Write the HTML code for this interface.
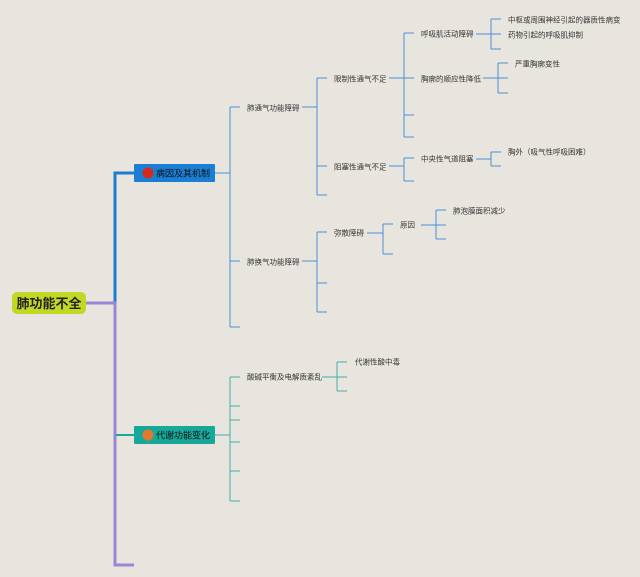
<!DOCTYPE html>
<html><head><meta charset="utf-8"><style>
html,body{margin:0;padding:0;background:#e8e5df;}
svg{display:block;}
text{font-family:"Liberation Sans","Noto Sans CJK SC",sans-serif;font-size:7.5px;fill:#333;dominant-baseline:central;}
</style></head><body>
<svg width="640" height="577" viewBox="0 0 640 577" xmlns="http://www.w3.org/2000/svg">
<rect width="640" height="577" fill="#e8e5df"/>
<!-- main trunk -->
<g fill="none" stroke-linejoin="miter">
<path d="M86 303H115V173H135" stroke="#1a7fd4" stroke-width="3"/>
<path d="M86 303H115V565H134" stroke="#9a86d6" stroke-width="3"/>
<path d="M116 435H134" stroke="#17a89a" stroke-width="2"/>
</g>
<!-- blue branches -->
<g fill="none" stroke="#4a90d0" stroke-width="1">
<path d="M215 173H230M230 107V327M230 107H240M230 261H240M230 327H240"/>
<path d="M302 107H317M317 78V195M317 78H327M317 166H327M317 195H327"/>
<path d="M389 78H404M404 33V137M404 33H414M404 78H414M404 115H414M404 137H414"/>
<path d="M476 34H491M491 19V49M491 19H501M491 34H501M491 49H501"/>
<path d="M483 78H498M498 63V93M498 63H508M498 78H508M498 93H508"/>
<path d="M389 166H404M404 158V181M404 158H414M404 181H414"/>
<path d="M476 159H491M491 152V166M491 152H501M491 166H501"/>
<path d="M302 261H317M317 232V312M317 232H327M317 283H327M317 312H327"/>
<path d="M367 233H383M383 224V254M383 224H393M383 254H393"/>
<path d="M421 225H436M436 210V239M436 210H446M436 225H446M436 239H446"/>
</g>
<!-- teal branches -->
<g fill="none" stroke="#3fb0a6" stroke-width="1">
<path d="M215 435H230M230 377V501M230 377H240M230 406H240M230 420H240M230 442H240M230 471H240M230 501H240"/>
<path d="M322 377H337M337 362V391M337 362H347M337 377H347M337 391H347"/>
</g>
<!-- root -->
<rect x="12" y="292" width="74" height="22" rx="5" fill="#c2d923"/>
<text x="49" y="303.5" text-anchor="middle" style="font-size:13px;font-weight:bold;fill:#222">肺功能不全</text>
<!-- box1 -->
<rect x="134" y="164" width="81" height="18" rx="1" fill="#1a7fd4"/>
<circle cx="148" cy="173" r="5.5" fill="#d42a1e"/>
<text x="156" y="173.5" style="font-size:9px;fill:#111">病因及其机制</text>
<!-- box2 -->
<rect x="134" y="426" width="81" height="18" rx="1" fill="#17a89a"/>
<circle cx="148" cy="435" r="5.5" fill="#e07a2a"/>
<text x="156" y="435.5" style="font-size:9px;fill:#111">代谢功能变化</text>
<!-- labels -->
<text x="247" y="108">肺通气功能障碍</text>
<text x="334" y="79">限制性通气不足</text>
<text x="421" y="34">呼吸肌活动障碍</text>
<text x="508" y="20">中枢或周围神经引起的器质性病变</text>
<text x="508" y="35">药物引起的呼吸肌抑制</text>
<text x="421" y="79">胸廓的顺应性降低</text>
<text x="515" y="64">严重胸廓变性</text>
<text x="334" y="167">阻塞性通气不足</text>
<text x="421" y="159">中央性气道阻塞</text>
<text x="508" y="152">胸外（吸气性呼吸困难）</text>
<text x="247" y="262">肺换气功能障碍</text>
<text x="334" y="233">弥散障碍</text>
<text x="400" y="225">原因</text>
<text x="453" y="211">肺泡膜面积减少</text>
<text x="247" y="377">酸碱平衡及电解质紊乱</text>
<text x="355" y="362">代谢性酸中毒</text>
</svg>
</body></html>
